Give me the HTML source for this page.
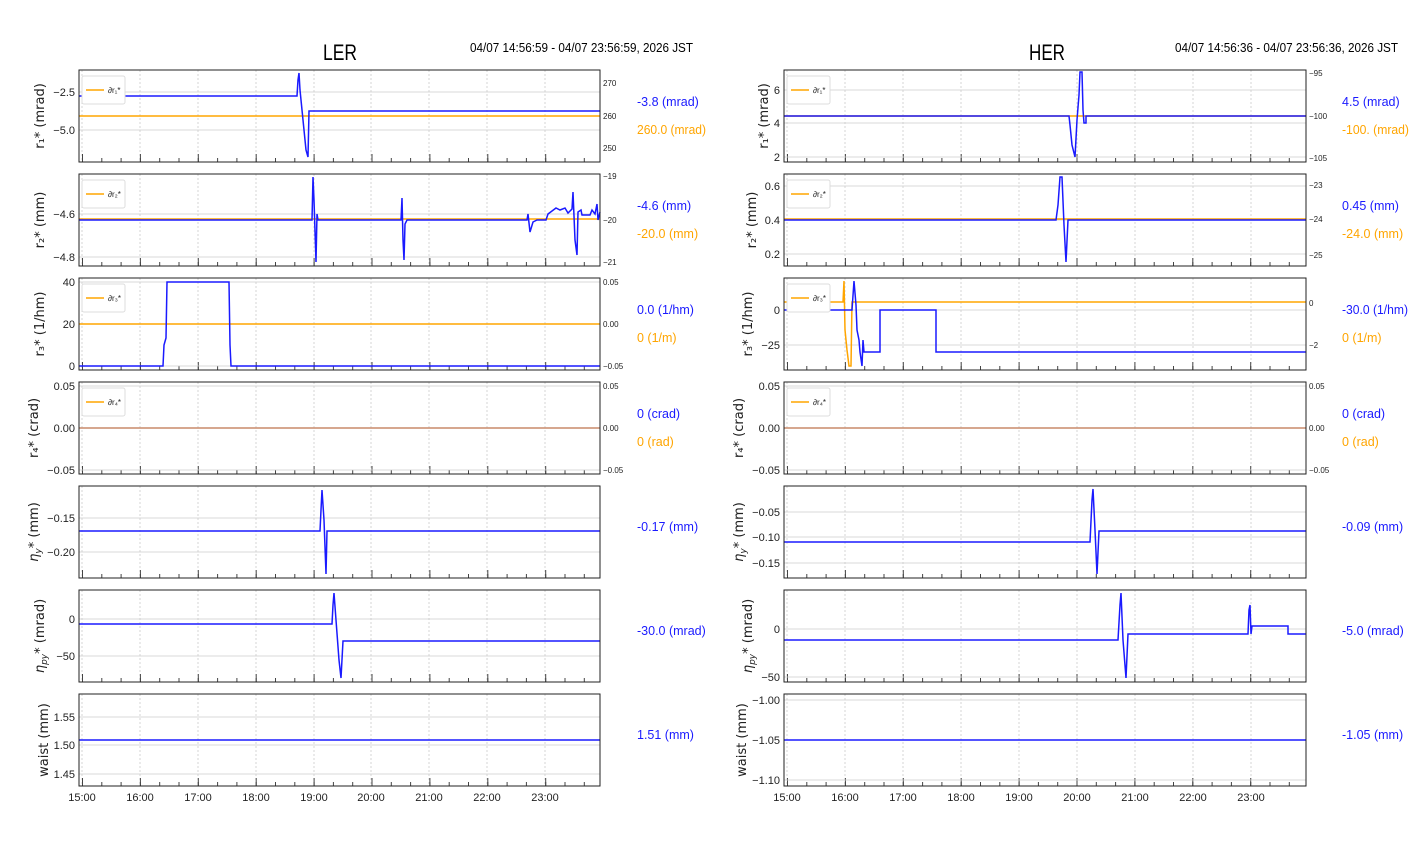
<!DOCTYPE html>
<html><head><meta charset="utf-8"><style>
body{margin:0;background:#fff}
svg{display:block;font-family:"Liberation Sans Narrow","Liberation Sans",sans-serif}
.t{font-size:11px;fill:#222}
.rt{font-size:8px;fill:#222}
.yl{font-size:13px;fill:#222;font-family:"DejaVu Sans",sans-serif}
.b{font-size:12.5px;fill:#1a1aff}
.o{font-size:12.5px;fill:#ffa500}
.fr{fill:none;stroke:#222;stroke-width:1}
.gv{stroke:#ccc;stroke-width:0.8;stroke-dasharray:2 2}
.gh{stroke:#ccc;stroke-width:0.8}
.bl{fill:none;stroke:#1a1aff;stroke-width:1.5}
.ol{fill:none;stroke:#ffa500;stroke-width:1.5}
.leg{fill:#fff;stroke:#ddd;stroke-width:1}
</style></head><body>
<svg width="1412" height="864" viewBox="0 0 1412 864">
<defs>
<g id="gvL"><path class="gv" d="M82 0V92M140 0V92M198 0V92M256 0V92M314 0V92M371 0V92M429 0V92M487 0V92M545 0V92"/>
<line x1="82" y1="90" x2="600" y2="90" stroke="#444" stroke-width="4" stroke-dasharray="1 18.3"/>
<line x1="82" y1="88" x2="600" y2="88" stroke="#444" stroke-width="8" stroke-dasharray="1 56.9"/></g>
<g id="gvR"><path class="gv" d="M787 0V92M845 0V92M903 0V92M961 0V92M1019 0V92M1077 0V92M1135 0V92M1193 0V92M1251 0V92"/>
<line x1="787" y1="90" x2="1306" y2="90" stroke="#444" stroke-width="4" stroke-dasharray="1 18.3"/>
<line x1="787" y1="88" x2="1306" y2="88" stroke="#444" stroke-width="8" stroke-dasharray="1 56.9"/></g>
</defs>
<text x="340" y="60" font-size="22" text-anchor="middle" fill="#000" textLength="34" lengthAdjust="spacingAndGlyphs">LER</text>
<text x="470" y="52" font-size="13" fill="#000" textLength="223" lengthAdjust="spacingAndGlyphs">04/07 14:56:59 - 04/07 23:56:59, 2026 JST</text>
<text x="1047" y="60" font-size="22" text-anchor="middle" fill="#000" textLength="36" lengthAdjust="spacingAndGlyphs">HER</text>
<text x="1175" y="52" font-size="13" fill="#000" textLength="223" lengthAdjust="spacingAndGlyphs">04/07 14:56:36 - 04/07 23:56:36, 2026 JST</text>

<use href="#gvL" y="70"/><use href="#gvL" y="174"/><use href="#gvL" y="278"/><use href="#gvL" y="382"/><use href="#gvL" y="486"/><use href="#gvL" y="590"/><use href="#gvL" y="694"/>
<use href="#gvR" y="70"/><use href="#gvR" y="174"/><use href="#gvR" y="278"/><use href="#gvR" y="382"/><use href="#gvR" y="486"/><use href="#gvR" y="590"/><use href="#gvR" y="694"/>

<path class="gh" d="M79 92H600M79 130H600M79 214H600M79 257H600M79 282H600M79 324H600M79 366H600M79 386H600M79 428H600M79 470H600M79 518H600M79 552H600M79 619H600M79 656H600M79 717H600M79 745H600M79 774H600"/>
<path class="gh" d="M784 90H1306M784 123H1306M784 157H1306M784 186H1306M784 220H1306M784 254H1306M784 310H1306M784 345H1306M784 386H1306M784 428H1306M784 470H1306M784 512H1306M784 537H1306M784 563H1306M784 629H1306M784 677H1306M784 700H1306M784 740H1306M784 780H1306"/>

<path class="ol" d="M79 116H600"/>
<path class="bl" d="M79 96H297L298 80L299 73L300 90L303 120L306 150L308 157L309 111H600"/>
<path class="ol" d="M79 219H600"/>
<path class="bl" d="M79 220H312L313 177L314 200L316 262L317 214L318 220H401L402 198L403 240L404 260L405 224L407 220H527L528 214L530 232L533 222L537 220H546L548 214L552 211L556 208L560 210L565 208L568 213L572 209L573 192L575 240L577 255L578 212L581 210L582 215H590L592 210L595 214L597 204L598 220L600 212"/>
<path class="ol" d="M79 324H600"/>
<path class="bl" d="M79 366H163L164 345L166 338L167 282H229L230 345L231 366H600"/>
<path d="M79 428H600" stroke="#c98a6a" stroke-width="1.5"/>
<path class="bl" d="M79 531H320L321 510L322 490L324 520L326 574L327 531H600"/>
<path class="bl" d="M79 624H332L333 605L334 593L336 620L339 660L341 678L343 641H600"/>
<path class="bl" d="M79 740H600"/>

<path class="ol" d="M784 116H1306"/>
<path class="bl" d="M784 116H1069L1070 125L1072 145L1075 157L1077 120L1079 95L1080 72H1082L1083 110L1084 123H1086L1086 116H1306"/>
<path class="ol" d="M784 219H1306"/>
<path class="bl" d="M784 220H1056L1058 205L1060 177H1062L1064 225L1066 262L1068 220H1306"/>
<path class="ol" d="M784 302H843L844 281L845 330L847 350L849 366H851L852 302H1306"/>
<path class="bl" d="M784 310H852L854 281L856 305L857 330L859 340L860 352L862 366L863 340L864 352H880V310H936V352H1306"/>
<path d="M784 428H1306" stroke="#c98a6a" stroke-width="1.5"/>
<path class="bl" d="M784 542H1090L1092 500L1093 489L1095 530L1097 574L1099 531H1306"/>
<path class="bl" d="M784 640H1118L1120 605L1121 593L1123 640L1126 678L1128 634H1248L1249 610L1250 605L1251 634L1252 626H1288V634H1306"/>
<path class="bl" d="M784 740H1306"/>

<g class="fr">
<rect x="79" y="70" width="521" height="92"/><rect x="79" y="174" width="521" height="92"/><rect x="79" y="278" width="521" height="92"/><rect x="79" y="382" width="521" height="92"/><rect x="79" y="486" width="521" height="92"/><rect x="79" y="590" width="521" height="92"/><rect x="79" y="694" width="521" height="92"/>
<rect x="784" y="70" width="522" height="92"/><rect x="784" y="174" width="522" height="92"/><rect x="784" y="278" width="522" height="92"/><rect x="784" y="382" width="522" height="92"/><rect x="784" y="486" width="522" height="92"/><rect x="784" y="590" width="522" height="92"/><rect x="784" y="694" width="522" height="92"/>
</g>

<g>
<rect class="leg" x="82" y="76" width="43" height="28" rx="2"/><path class="ol" d="M86 90H104"/><text x="108" y="93" class="rt" font-size="9">∂r₁*</text>
<rect class="leg" x="82" y="180" width="43" height="28" rx="2"/><path class="ol" d="M86 194H104"/><text x="108" y="197" class="rt" font-size="9">∂r₂*</text>
<rect class="leg" x="82" y="284" width="43" height="28" rx="2"/><path class="ol" d="M86 298H104"/><text x="108" y="301" class="rt" font-size="9">∂r₃*</text>
<rect class="leg" x="82" y="388" width="43" height="28" rx="2"/><path class="ol" d="M86 402H104"/><text x="108" y="405" class="rt" font-size="9">∂r₄*</text>
<rect class="leg" x="787" y="76" width="43" height="28" rx="2"/><path class="ol" d="M791 90H809"/><text x="813" y="93" class="rt" font-size="9">∂r₁*</text>
<rect class="leg" x="787" y="180" width="43" height="28" rx="2"/><path class="ol" d="M791 194H809"/><text x="813" y="197" class="rt" font-size="9">∂r₂*</text>
<rect class="leg" x="787" y="284" width="43" height="28" rx="2"/><path class="ol" d="M791 298H809"/><text x="813" y="301" class="rt" font-size="9">∂r₃*</text>
<rect class="leg" x="787" y="388" width="43" height="28" rx="2"/><path class="ol" d="M791 402H809"/><text x="813" y="405" class="rt" font-size="9">∂r₄*</text>
</g>

<g class="t" text-anchor="end">
<text x="75" y="96">−2.5</text><text x="75" y="134">−5.0</text>
<text x="75" y="218">−4.6</text><text x="75" y="261">−4.8</text>
<text x="75" y="286">40</text><text x="75" y="328">20</text><text x="75" y="370">0</text>
<text x="75" y="390">0.05</text><text x="75" y="432">0.00</text><text x="75" y="474">−0.05</text>
<text x="75" y="522">−0.15</text><text x="75" y="556">−0.20</text>
<text x="75" y="623">0</text><text x="75" y="660">−50</text>
<text x="75" y="721">1.55</text><text x="75" y="749">1.50</text><text x="75" y="778">1.45</text>
</g>
<g class="t" text-anchor="end">
<text x="780" y="94">6</text><text x="780" y="127">4</text><text x="780" y="161">2</text>
<text x="780" y="190">0.6</text><text x="780" y="224">0.4</text><text x="780" y="258">0.2</text>
<text x="780" y="314">0</text><text x="780" y="349">−25</text>
<text x="780" y="390">0.05</text><text x="780" y="432">0.00</text><text x="780" y="474">−0.05</text>
<text x="780" y="516">−0.05</text><text x="780" y="541">−0.10</text><text x="780" y="567">−0.15</text>
<text x="780" y="633">0</text><text x="780" y="681">−50</text>
<text x="780" y="704">−1.00</text><text x="780" y="744">−1.05</text><text x="780" y="784">−1.10</text>
</g>
<g class="rt">
<text x="603" y="86">270</text><text x="603" y="119">260</text><text x="603" y="151">250</text>
<text x="603" y="179">−19</text><text x="603" y="223">−20</text><text x="603" y="265">−21</text>
<text x="603" y="285">0.05</text><text x="603" y="327">0.00</text><text x="603" y="369">−0.05</text>
<text x="603" y="389">0.05</text><text x="603" y="431">0.00</text><text x="603" y="473">−0.05</text>
<text x="1309" y="76">−95</text><text x="1309" y="119">−100</text><text x="1309" y="161">−105</text>
<text x="1309" y="188">−23</text><text x="1309" y="222">−24</text><text x="1309" y="258">−25</text>
<text x="1309" y="306">0</text><text x="1309" y="348">−2</text>
<text x="1309" y="389">0.05</text><text x="1309" y="431">0.00</text><text x="1309" y="473">−0.05</text>
</g>

<g class="yl" text-anchor="middle">
<text transform="translate(44,116) rotate(-90)">r₁* (mrad)</text>
<text transform="translate(44,220) rotate(-90)">r₂* (mm)</text>
<text transform="translate(44,324) rotate(-90)">r₃* (1/hm)</text>
<text transform="translate(38,428) rotate(-90)">r₄* (crad)</text>
<text transform="translate(38,532) rotate(-90)"><tspan font-style="italic">η<tspan font-size="9" dy="3">y</tspan></tspan><tspan dy="-3">* (mm)</tspan></text>
<text transform="translate(44,636) rotate(-90)"><tspan font-style="italic">η<tspan font-size="9" dy="3">py</tspan></tspan><tspan dy="-3">* (mrad)</tspan></text>
<text transform="translate(48,740) rotate(-90)">waist (mm)</text>
<text transform="translate(768,116) rotate(-90)">r₁* (mrad)</text>
<text transform="translate(756,220) rotate(-90)">r₂* (mm)</text>
<text transform="translate(752,324) rotate(-90)">r₃* (1/hm)</text>
<text transform="translate(743,428) rotate(-90)">r₄* (crad)</text>
<text transform="translate(743,532) rotate(-90)"><tspan font-style="italic">η<tspan font-size="9" dy="3">y</tspan></tspan><tspan dy="-3">* (mm)</tspan></text>
<text transform="translate(752,636) rotate(-90)"><tspan font-style="italic">η<tspan font-size="9" dy="3">py</tspan></tspan><tspan dy="-3">* (mrad)</tspan></text>
<text transform="translate(746,740) rotate(-90)">waist (mm)</text>
</g>

<g class="t" text-anchor="middle">
<text x="82" y="801">15:00</text><text x="140" y="801">16:00</text><text x="198" y="801">17:00</text><text x="256" y="801">18:00</text><text x="314" y="801">19:00</text><text x="371" y="801">20:00</text><text x="429" y="801">21:00</text><text x="487" y="801">22:00</text><text x="545" y="801">23:00</text>
<text x="787" y="801">15:00</text><text x="845" y="801">16:00</text><text x="903" y="801">17:00</text><text x="961" y="801">18:00</text><text x="1019" y="801">19:00</text><text x="1077" y="801">20:00</text><text x="1135" y="801">21:00</text><text x="1193" y="801">22:00</text><text x="1251" y="801">23:00</text>
</g>

<text x="637" y="106" class="b">-3.8 (mrad)</text><text x="637" y="134" class="o" textLength="69" lengthAdjust="spacingAndGlyphs">260.0 (mrad)</text>
<text x="637" y="210" class="b">-4.6 (mm)</text><text x="637" y="238" class="o">-20.0 (mm)</text>
<text x="637" y="314" class="b">0.0 (1/hm)</text><text x="637" y="342" class="o">0 (1/m)</text>
<text x="637" y="418" class="b">0 (crad)</text><text x="637" y="446" class="o">0 (rad)</text>
<text x="637" y="531" class="b">-0.17 (mm)</text>
<text x="637" y="635" class="b">-30.0 (mrad)</text>
<text x="637" y="739" class="b">1.51 (mm)</text>
<text x="1342" y="106" class="b">4.5 (mrad)</text><text x="1342" y="134" class="o" textLength="67" lengthAdjust="spacingAndGlyphs">-100. (mrad)</text>
<text x="1342" y="210" class="b">0.45 (mm)</text><text x="1342" y="238" class="o">-24.0 (mm)</text>
<text x="1342" y="314" class="b" textLength="66" lengthAdjust="spacingAndGlyphs">-30.0 (1/hm)</text><text x="1342" y="342" class="o">0 (1/m)</text>
<text x="1342" y="418" class="b">0 (crad)</text><text x="1342" y="446" class="o">0 (rad)</text>
<text x="1342" y="531" class="b">-0.09 (mm)</text>
<text x="1342" y="635" class="b">-5.0 (mrad)</text>
<text x="1342" y="739" class="b">-1.05 (mm)</text>
</svg>
</body></html>
